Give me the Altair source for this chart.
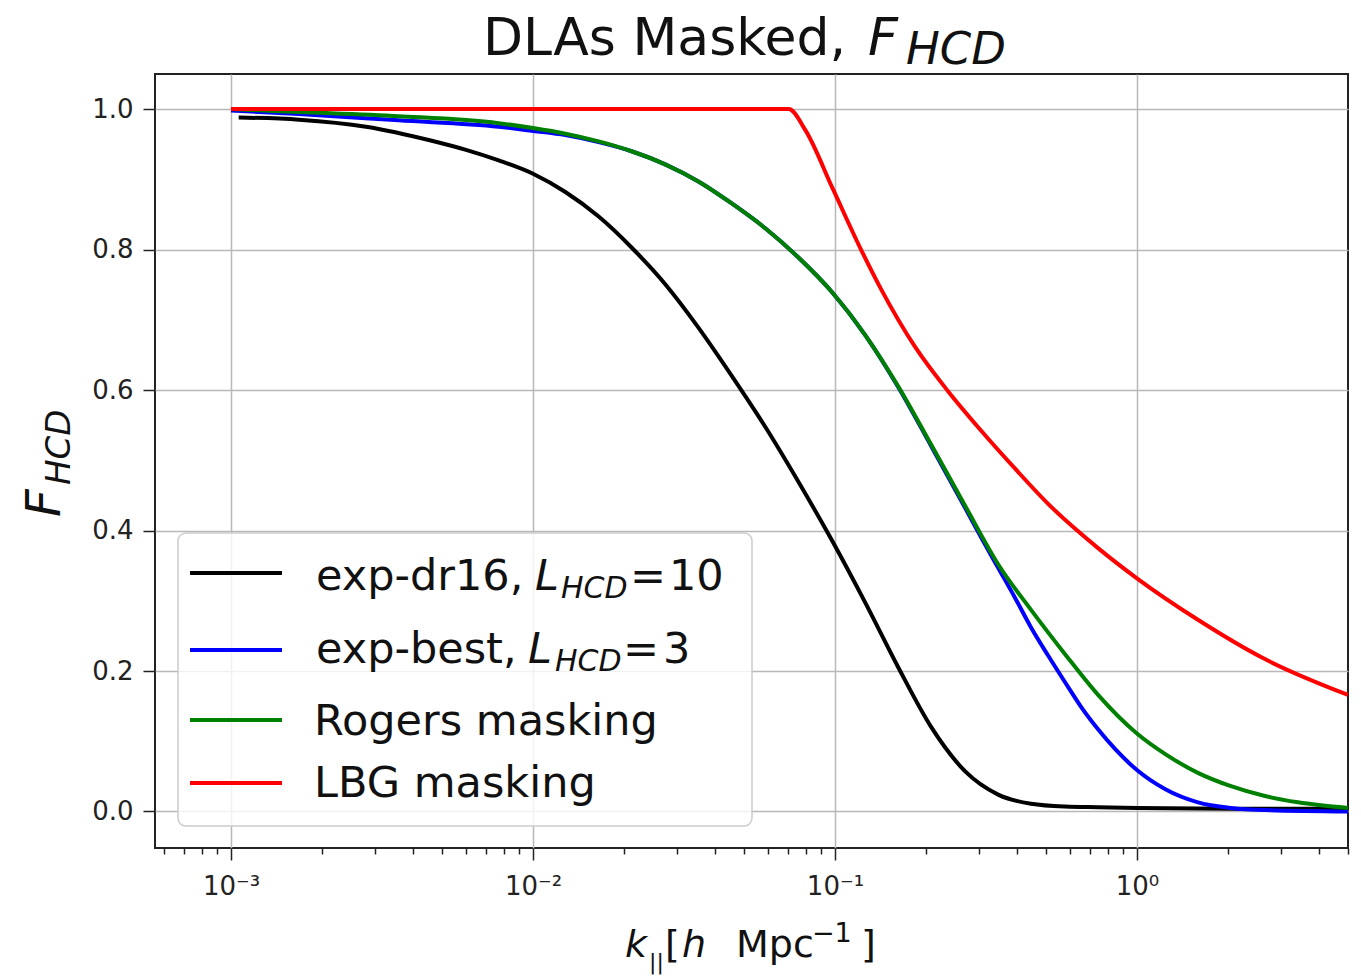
import math
import altair as alt
import pandas as pd

# ---------------- data ----------------
k_dr16 = [0.00106, 0.00168, 0.0028, 0.00462, 0.006, 0.0077, 0.01, 0.0128, 0.0165, 0.0212,
          0.0275, 0.0353, 0.0454, 0.0589, 0.076, 0.098, 0.1261, 0.1621, 0.2084, 0.27,
          0.347, 0.446, 0.578, 0.7435, 1.0, 2.0, 5.0]
F_dr16 = [0.988, 0.985, 0.975, 0.955, 0.942, 0.927, 0.908, 0.882, 0.847, 0.803,
          0.750, 0.689, 0.621, 0.547, 0.468, 0.385, 0.297, 0.205, 0.120, 0.057,
          0.024, 0.011, 0.007, 0.006, 0.005, 0.004, 0.004]

k_best = [0.001, 0.00168, 0.00359, 0.0077, 0.01, 0.0128, 0.0165, 0.0212, 0.0275, 0.0353,
          0.0454, 0.0589, 0.076, 0.098, 0.1261, 0.1621, 0.2084, 0.27, 0.305, 0.347,
          0.395, 0.446, 0.508, 0.578, 0.653, 0.7435, 0.846, 1.0, 1.238, 1.592,
          2.048, 2.653, 5.0]
F_best = [0.998, 0.993, 0.984, 0.975, 0.969, 0.963, 0.953, 0.940, 0.921, 0.897,
          0.866, 0.830, 0.788, 0.739, 0.678, 0.604, 0.520, 0.432, 0.390, 0.347,
          0.304, 0.262, 0.222, 0.184, 0.149, 0.117, 0.089, 0.059, 0.032, 0.013,
          0.005, 0.002, 0.0]

k_rog = [0.001, 0.00168, 0.00359, 0.0077, 0.01, 0.0128, 0.0165, 0.0212, 0.0275, 0.0353,
         0.0454, 0.0589, 0.076, 0.098, 0.1261, 0.1621, 0.2084, 0.27, 0.347, 0.446,
         0.578, 0.7435, 1.0, 1.238, 1.592, 2.048, 2.653, 3.412, 5.0]
F_rog = [1.0, 0.996, 0.990, 0.980, 0.973, 0.965, 0.954, 0.940, 0.921, 0.897,
         0.866, 0.830, 0.788, 0.739, 0.678, 0.605, 0.522, 0.435, 0.352, 0.287,
         0.224, 0.166, 0.111, 0.082, 0.055, 0.036, 0.022, 0.013, 0.005]

k_lbg = [0.001, 0.0702, 0.0798, 0.0985, 0.1223, 0.1424, 0.1845, 0.2372, 0.305, 0.395,
         0.508, 0.7435, 1.0, 1.592, 2.653, 5.0]
F_lbg = [1.0, 1.0, 0.970, 0.886, 0.799, 0.743, 0.661, 0.598, 0.542, 0.488,
         0.438, 0.375, 0.332, 0.273, 0.217, 0.166]

series_names = ["exp-dr16, L_HCD=10", "exp-best, L_HCD=3", "Rogers masking", "LBG masking"]
series_colors = ["#000000", "#0000ff", "#008000", "#ff0000"]
series_k = [k_dr16, k_best, k_rog, k_lbg]
series_F = [F_dr16, F_best, F_rog, F_lbg]

y_ticks = [0.0, 0.2, 0.4, 0.6, 0.8, 1.0]
x_major = [0.001, 0.01, 0.1, 1.0]
x_major_labels = ["10⁻³", "10⁻²", "10⁻¹", "10⁰"]
x_minor = [0.0006, 0.0007, 0.0008, 0.0009,
           0.002, 0.003, 0.004, 0.005, 0.006, 0.007, 0.008, 0.009,
           0.02, 0.03, 0.04, 0.05, 0.06, 0.07, 0.08, 0.09,
           0.2, 0.3, 0.4, 0.5, 0.6, 0.7, 0.8, 0.9,
           2.0, 3.0, 4.0, 5.0]

# ---------------- layout ----------------
W, H = 1193, 774
PL, PT = 155, 74
FONT = "DejaVu Sans"

DEC = "round(log(datum.value)/LN10)"
TEST = f"abs(log(datum.value)/LN10 - {DEC}) < 0.01"
label_expr = "''"
for v, lab in zip(reversed(x_major), reversed(x_major_labels)):
    e = int(round(math.log10(v)))
    label_expr = f"({DEC} == {e}) ? '{lab}' : ({label_expr})"
label_expr = f"({TEST}) ? ({label_expr}) : ''"

x_enc = alt.X(
    "k:Q",
    scale=alt.Scale(type="log", domain=[5.6e-4, 5.0], nice=False),
    axis=alt.Axis(
        values=sorted(x_major + x_minor), labelExpr=label_expr, title=None,
        grid=True, gridColor="#b8b8b8", gridWidth=1.5,
        gridOpacity={"condition": {"test": TEST, "value": 1}, "value": 0},
        tickSize={"condition": {"test": TEST, "value": 12}, "value": 6},
        tickColor="#222222", tickWidth=1.5,
        labelFont=FONT, labelFontSize=26, labelColor="#222222", labelPadding=13,
        labelFlush=False, labelOverlap=False, domain=False,
    ),
)
y_enc = alt.Y(
    "F:Q",
    scale=alt.Scale(domain=[-0.052, 1.05], nice=False, zero=False),
    axis=alt.Axis(
        values=y_ticks, format=".1f", title=None, grid=True,
        gridColor="#b8b8b8", gridWidth=1.5, tickSize=12, tickColor="#222222", tickWidth=1.5,
        labelFont=FONT, labelFontSize=26, labelColor="#222222", labelPadding=10, domain=False,
    ),
)

layers = []
for name, col, ks, Fs in zip(series_names, series_colors, series_k, series_F):
    df = pd.DataFrame({"k": ks, "F": Fs, "series": name})
    layers.append(
        alt.Chart(df).mark_line(color=col, strokeWidth=4, interpolate="monotone").encode(x=x_enc, y=y_enc)
    )

# ---------------- legend box ----------------
legend_box = alt.Chart(pd.DataFrame({"a": [0]})).mark_rect(
    fill="white", fillOpacity=0.8, stroke="#cccccc", strokeWidth=1.5, cornerRadius=8
).encode(
    x=alt.value(178 - PL), x2=alt.value(752 - PL), y=alt.value(533 - PT), y2=alt.value(826 - PT)
)

handle_y = [573, 650, 720, 783]
handles = alt.Chart(pd.DataFrame({"hy": [v - PT for v in handle_y], "c": series_colors})).mark_rule(
    strokeWidth=4
).encode(
    x=alt.value(190 - PL), x2=alt.value(282 - PL),
    y=alt.Y("hy:Q", scale=None, axis=None),
    color=alt.Color("c:N", scale=None, legend=None),
)

# ---------------- text pieces (page coords) ----------------
normal_txt = [
    ("DLAs Masked,", 483, 55, 52, 0),
    ("exp-dr16,", 316, 590, 43, 0),
    ("=", 630, 590, 43, 0),
    ("10", 669, 590, 43, 0),
    ("exp-best,", 316, 663, 43, 0),
    ("=", 623, 663, 43, 0),
    ("3", 663, 663, 43, 0),
    ("Rogers masking", 314, 735, 43, 0),
    ("LBG masking", 314, 797, 43, 0),
    ("||", 649, 969, 22, 0),
    ("[", 665, 957, 38, 0),
    ("Mpc", 736, 957, 38, 0),
    ("−1", 812, 942, 27, 0),
    ("]", 861, 957, 38, 0),
]
italic_txt = [
    ("F", 868, 55, 52, 0),
    ("HCD", 906, 64, 45, 0),
    ("L", 535, 590, 43, 0),
    ("HCD", 561, 598, 30, 0),
    ("L", 528, 663, 43, 0),
    ("HCD", 555, 671, 30, 0),
    ("F", 60, 517, 48, 270),
    ("HCD", 70, 485, 34, 270),
    ("k", 625, 957, 38, 0),
    ("h", 682, 957, 38, 0),
]


def text_layer(rows, style):
    df = pd.DataFrame({
        "txt": [r[0] for r in rows],
        "px": [r[1] - PL for r in rows],
        "py": [r[2] - PT for r in rows],
        "fs": [r[3] for r in rows],
        "ang": [r[4] for r in rows],
    })
    return alt.Chart(df).mark_text(
        align="left", baseline="alphabetic", font=FONT, fontStyle=style, color="#111111"
    ).encode(
        x=alt.X("px:Q", scale=None, axis=None),
        y=alt.Y("py:Q", scale=None, axis=None),
        size=alt.Size("fs:Q", scale=None, legend=None),
        angle=alt.Angle("ang:Q", scale=None, legend=None),
        text="txt:N",
    )


chart = alt.layer(
    *layers, legend_box, handles, text_layer(normal_txt, "normal"), text_layer(italic_txt, "italic")
).properties(
    width=W, height=H,
    autosize=alt.AutoSizeParams(type="none"),
    padding={"left": PL, "top": PT, "right": 1361 - PL - W, "bottom": 976 - PT - H},
    background="white",
).configure_view(stroke="#222222", strokeWidth=2)

chart.save("out.html", embed_options={"renderer": "svg", "actions": False})
